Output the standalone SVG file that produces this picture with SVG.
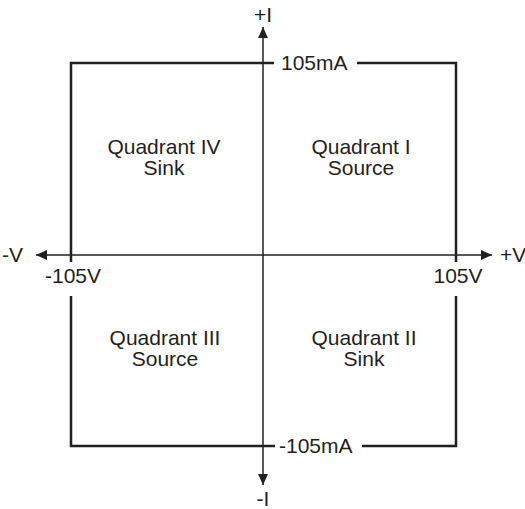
<svg xmlns="http://www.w3.org/2000/svg" width="525" height="509" viewBox="0 0 525 509">
<style>
text{font-family:"Liberation Sans",Arial,sans-serif;font-size:21px;fill:#231f20}
.m{text-anchor:middle}
.ln{stroke:#231f20;fill:none}
.frame{stroke-width:2.5}
.ax{stroke-width:1.5}
</style>
<defs>
<marker id="ah" viewBox="0 0 10 10" refX="10" refY="5" markerWidth="11" markerHeight="11" markerUnits="userSpaceOnUse" orient="auto-start-reverse"><path d="M0,0.5L10,5L0,9.5Z" fill="#231f20"/></marker>
</defs>
<rect width="525" height="509" fill="#fff"/>
<g id="connectors">
<g id="frame" class="ln frame">
<path d="M274,63H71V262"/>
<path d="M71,296V446H275"/>
<path d="M357,63H456V262"/>
<path d="M456,296V446H362"/>
</g>
<g id="axes" class="ln ax">
<line x1="263" y1="485" x2="263" y2="27" marker-start="url(#ah)" marker-end="url(#ah)"/>
<line x1="36" y1="255" x2="492" y2="255" marker-start="url(#ah)" marker-end="url(#ah)"/>
</g>
</g>
<g id="axis-labels">
<text class="m" x="263" y="22">+I</text>
<text class="m" x="263" y="506">-I</text>
<text x="2" y="262">-V</text>
<text x="500" y="262">+V</text>
</g>
<g id="limits">
<text x="281" y="70">105mA</text>
<text x="279" y="453">-105mA</text>
<text class="m" x="73" y="283">-105V</text>
<text class="m" x="458" y="283">105V</text>
</g>
<g id="q4"><text class="m" x="164" y="154">Quadrant IV</text><text class="m" x="164" y="175">Sink</text></g>
<g id="q1"><text class="m" x="361" y="154">Quadrant I</text><text class="m" x="361" y="175">Source</text></g>
<g id="q3"><text class="m" x="165" y="345">Quadrant III</text><text class="m" x="165" y="366">Source</text></g>
<g id="q2"><text class="m" x="364" y="345">Quadrant II</text><text class="m" x="364" y="366">Sink</text></g>
</svg>
